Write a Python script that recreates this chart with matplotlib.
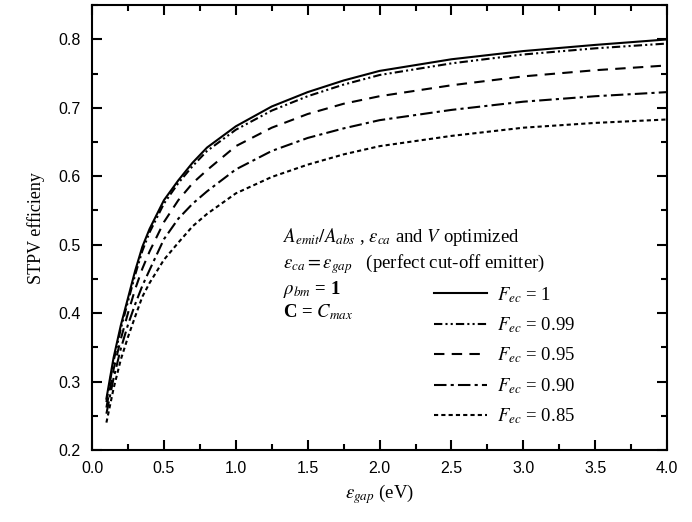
import matplotlib
matplotlib.use("Agg")
import matplotlib.pyplot as plt
from matplotlib.ticker import MultipleLocator

# photon gap energy (eV)
e_gap = [0.1, 0.15, 0.2, 0.25, 0.3, 0.35, 0.4, 0.5, 0.6, 0.7, 0.8, 1.0,
         1.25, 1.5, 1.75, 2.0, 2.5, 3.0, 3.5, 4.0]

# STPV efficiency for each F_ec
eff_100 = [0.275, 0.335, 0.382, 0.422, 0.462, 0.497, 0.523, 0.565, 0.594, 0.620,
           0.642, 0.673, 0.702, 0.723, 0.740, 0.754, 0.771, 0.783, 0.792, 0.800]
eff_099 = [0.270, 0.330, 0.377, 0.417, 0.456, 0.491, 0.518, 0.560, 0.590, 0.615,
           0.637, 0.668, 0.696, 0.717, 0.734, 0.748, 0.765, 0.778, 0.787, 0.794]
eff_095 = [0.262, 0.318, 0.362, 0.400, 0.435, 0.465, 0.490, 0.533, 0.565, 0.590,
           0.609, 0.644, 0.671, 0.691, 0.706, 0.717, 0.733, 0.746, 0.755, 0.762]
eff_090 = [0.253, 0.305, 0.348, 0.383, 0.413, 0.440, 0.463, 0.508, 0.538, 0.560,
           0.578, 0.610, 0.637, 0.656, 0.670, 0.682, 0.697, 0.709, 0.717, 0.723]
eff_085 = [0.240, 0.290, 0.332, 0.365, 0.395, 0.424, 0.444, 0.478, 0.503, 0.527,
           0.545, 0.575, 0.599, 0.617, 0.632, 0.644, 0.659, 0.671, 0.678, 0.683]

labels = ["1", "0.99", "0.95", "0.90", "0.85"]

plt.rcParams['mathtext.fontset'] = 'stix'
serif = 'Liberation Serif'
sans = 'Liberation Sans'

fig = plt.figure(figsize=(6.92, 5.22), dpi=100)
ax = fig.add_axes([0.133, 0.138, 0.831, 0.852])

styles = ['-', (0, (4, 1.5, 1, 1.5, 1, 1.5)), (0, (5, 3.5)),
          (0, (6, 2, 1.5, 2)), (0, (2, 1.5))]
series = [eff_100, eff_099, eff_095, eff_090, eff_085]
for vals, ls, lab in zip(series, styles, labels):
    ax.plot(e_gap, vals, color='black', linestyle=ls, linewidth=1.5,
            label=r'$F_{ec}$ = ' + lab)

ax.set_xlim(0, 4.0)
ax.set_ylim(0.2, 0.85)
ax.xaxis.set_major_locator(MultipleLocator(0.5))
ax.xaxis.set_minor_locator(MultipleLocator(0.25))
ax.yaxis.set_major_locator(MultipleLocator(0.1))
ax.yaxis.set_minor_locator(MultipleLocator(0.05))
ax.tick_params(which='both', direction='in', top=True, right=True, width=1.5)
ax.tick_params(which='major', length=7, labelsize=11.5, pad=8)
ax.tick_params(which='minor', length=4)
for lbl in ax.get_xticklabels() + ax.get_yticklabels():
    lbl.set_family(sans)
for sp in ax.spines.values():
    sp.set_linewidth(1.5)

ax.set_xlabel(r'$\varepsilon_{gap}$ (eV)', family=serif, fontsize=13.5)
ax.set_ylabel('STPV efficieny', family=serif, fontsize=13, labelpad=10)

tx = 0.332
fs = 13.5
ax.text(tx, 0.479, r'$A_{emit}/A_{abs}$ , $\varepsilon_{ca}$ and $V$ optimized',
        transform=ax.transAxes, family=serif, fontsize=fs, va='center')
ax.text(tx, 0.418, r'$\varepsilon_{ca} = \varepsilon_{gap}$   (perfect cut-off emitter)',
        transform=ax.transAxes, family=serif, fontsize=fs, va='center')
ax.text(tx, 0.36, r'$\rho_{bm}$ = 1', transform=ax.transAxes, family=serif,
        fontsize=fs, va='center', fontweight='bold')
ax.text(tx, 0.31, r'C = $C_{max}$', transform=ax.transAxes, family=serif,
        fontsize=fs, va='center', fontweight='bold')

leg = ax.legend(loc='upper left', bbox_to_anchor=(0.566, 0.409), frameon=False,
                handlelength=2.8, labelspacing=0.57, handletextpad=0.55,
                prop={'family': serif, 'size': fs})

fig.savefig('out.png', dpi=100)
